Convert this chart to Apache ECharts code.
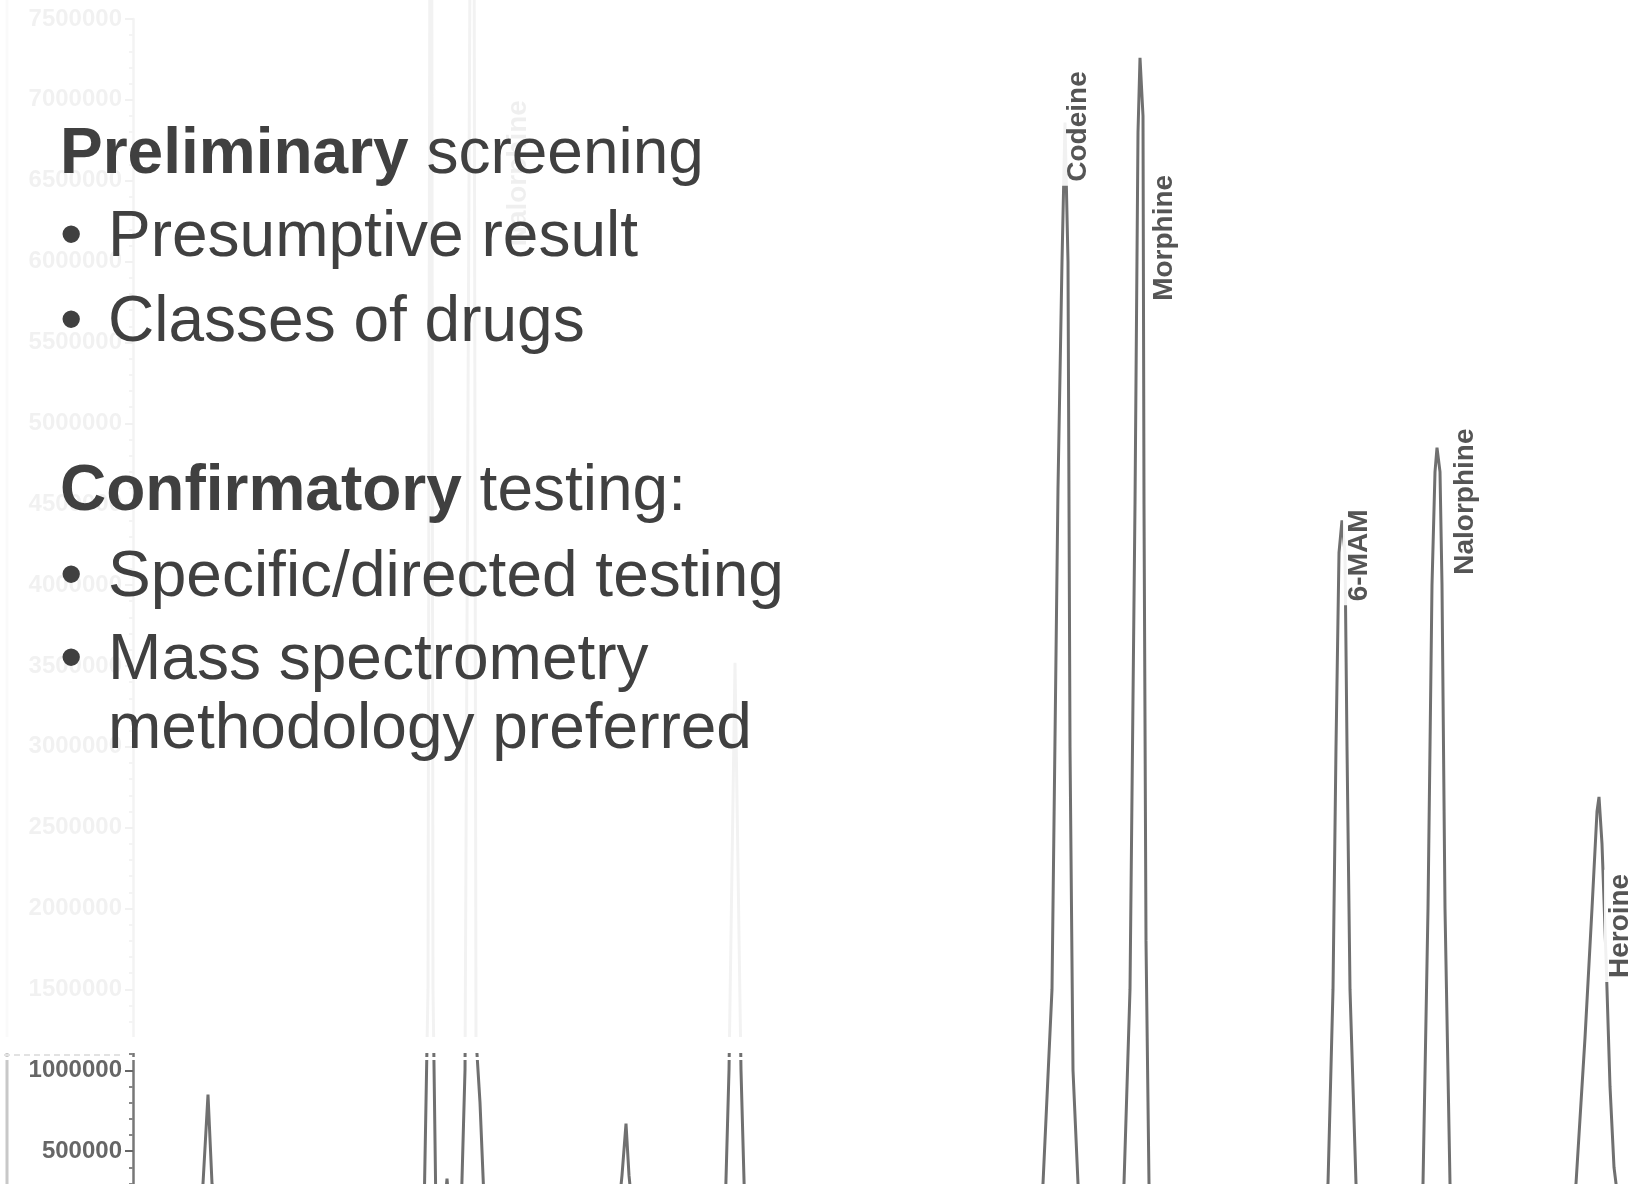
<!DOCTYPE html>
<html>
<head>
<meta charset="utf-8">
<script src="https://cdn.jsdelivr.net/npm/echarts@6/dist/echarts.min.js"></script>
<style>
  html, body { margin: 0; padding: 0; background: #fff; }
  #chart { width: 1650px; height: 1184px; }
</style>
</head>
<body>
<div id="chart"></div>
<script>
// 色谱图数据（保留时间 min / 响应值）
const traceTime = [
  2.0,
  2.325, 2.35, 2.375, 2.395, 2.415,
  3.455, 3.475, 3.49, 3.5, 3.515,
  3.555, 3.57, 3.585,
  3.64, 3.66, 3.7, 3.715, 3.735, 3.755,
  4.425, 4.445, 4.465, 4.48, 4.5,
  4.96, 4.98, 5.01, 5.04, 5.06,
  6.515, 6.55, 6.595, 6.625, 6.645, 6.66, 6.675, 6.685, 6.7, 6.725, 6.76,
  6.925, 6.955, 6.985, 7.01, 7.025, 7.035, 7.05, 7.055, 7.065, 7.08, 7.11,
  7.935, 7.975, 8.0, 8.015, 8.03, 8.045, 8.06, 8.07, 8.085, 8.115, 8.15,
  8.415, 8.45, 8.475, 8.495, 8.51, 8.52, 8.535, 8.545, 8.56, 8.585, 8.62,
  9.175, 9.215, 9.26, 9.295, 9.32, 9.33, 9.345, 9.365, 9.385, 9.405, 9.435,
  9.585,
]
const traceSignal = [
  100000,
  100000, 300000, 850000, 300000, 100000,
  100000, 1500000, 12000000, 1500000, 100000,
  100000, 330000, 100000,
  100000, 1000000, 12000000, 1200000, 800000, 200000,
  100000, 350000, 670000, 350000, 100000,
  100000, 1000000, 3520000, 1000000, 100000,
  100000, 300000, 1500000, 4600000, 6000000, 6860000, 6000000, 3000000, 1000000, 300000, 100000,
  100000, 300000, 1500000, 4500000, 6800000, 7260000, 6900000, 4500000, 1800000, 300000, 100000,
  100000, 300000, 1500000, 3000000, 4200000, 4400000, 4200000, 3000000, 1500000, 300000, 100000,
  100000, 300000, 2000000, 4000000, 4700000, 4850000, 4700000, 4000000, 2000000, 300000, 100000,
  100000, 300000, 1200000, 2000000, 2600000, 2690000, 2400000, 1700000, 900000, 400000, 100000,
  100000,
]

// 峰标注
const peakNames = ['Nalorphine', 'Codeine', 'Morphine', '6-MAM', 'Nalorphine', 'Heroine']
const peakTimes = [3.7, 6.66, 7.035, 8.045, 8.52, 9.33]
const peakHeights = [12000000, 6860000, 7260000, 4400000, 4850000, 2690000]

// 幻灯片文字
const slideLines = [
  { bullet: false, text: '{b|Preliminary} screening' },
  { bullet: true, text: 'Presumptive result' },
  { bullet: true, text: 'Classes of drugs' },
  { bullet: false, text: '{b|Confirmatory} testing:' },
  { bullet: true, text: 'Specific/directed testing' },
  { bullet: true, text: 'Mass spectrometry' },
  { bullet: false, indent: true, text: 'methodology preferred' },
]

const FONT = "'Liberation Sans', Arial, sans-serif"
const TEXT_COLOR = '#404040'
const LINE_Y = [155, 238, 323, 492, 578, 661, 730] // 每行文字中心
const LABEL_OFFSETS = [[45, 882], [13, 4], [24, 180], [17, 35], [28, 54], [21, 129]]

const chart = echarts.init(document.getElementById('chart'))

// 幻灯片文字元素
const textElements = []
slideLines.forEach((line, i) => {
  if (line.bullet) {
    textElements.push({
      type: 'text', x: 60, y: LINE_Y[i], z: 60,
      style: { text: '\u2022', font: `64px ${FONT}`, fill: TEXT_COLOR, verticalAlign: 'middle' },
    })
  }
  textElements.push({
    type: 'text',
    x: line.bullet || line.indent ? 108 : 60,
    y: LINE_Y[i],
    z: 60,
    style: {
      text: line.text,
      fontSize: 64,
      fontFamily: FONT,
      fill: TEXT_COLOR,
      verticalAlign: 'middle',
      rich: {
        b: { fontSize: 64, fontFamily: FONT, fontWeight: 'bold', fill: TEXT_COLOR },
      },
    },
  })
})

const option = {
  backgroundColor: '#fff',
  animation: false,
  grid: { left: 133, right: 0, top: 19, bottom: -48, outerBoundsMode: 'none' },
  xAxis: { type: 'value', min: 2.0, max: 9.585, show: false },
  yAxis: {
    type: 'value',
    min: 0,
    max: 7500000,
    interval: 500000,
    splitLine: { show: false },
    axisLine: { show: true, lineStyle: { color: '#777', width: 2.5 } },
    axisTick: { show: true, length: 8, lineStyle: { color: '#666', width: 2 } },
    minorTick: { show: true, splitNumber: 5, length: 4, lineStyle: { color: '#888', width: 2 } },
    axisLabel: {
      margin: 11,
      fontSize: 24,
      fontWeight: 'bold',
      fontFamily: FONT,
      color: '#666',
      showMinLabel: false,
      formatter: (v) => String(v),
    },
  },
  series: [
    {
      type: 'line',
      data: traceTime.map((t, i) => [t, traceSignal[i]]),
      symbol: 'none',
      clip: false,
      lineStyle: { color: '#707070', width: 3 },
      z: 2,
    },
    {
      type: 'custom',
      data: peakTimes.map((t, i) => [t, peakHeights[i]]),
      z: 3,
      renderItem(params, api) {
        const pt = api.coord([api.value(0), api.value(1)])
        const off = LABEL_OFFSETS[params.dataIndex]
        return {
          type: 'text',
          x: pt[0] + off[0],
          y: pt[1] + off[1],
          rotation: Math.PI / 2,
          style: {
            text: peakNames[params.dataIndex],
            fontSize: 28,
            fontWeight: 'bold',
            fontFamily: FONT,
            fill: '#555',
            align: 'center',
            verticalAlign: 'middle',
            backgroundColor: 'rgba(255,255,255,0.9)',
            padding: [2, 4],
          },
        }
      },
    },
  ],
  graphic: [
    // 原图左侧边框
    { type: 'line', z: 1, shape: { x1: 7, y1: 0, x2: 7, y2: 1184 }, style: { stroke: '#c8c8c8', lineWidth: 3 } },
    // 上半部分淡化遮罩
    { type: 'rect', z: 50, shape: { x: 0, y: 0, width: 790, height: 1037 }, style: { fill: 'rgba(255,255,255,0.91)' } },
    { type: 'rect', z: 50, shape: { x: 0, y: 1037, width: 790, height: 16 }, style: { fill: '#fff' } },
    { type: 'line', z: 51, shape: { x1: 4, y1: 1055, x2: 122, y2: 1055 }, style: { stroke: '#e2e2e2', lineWidth: 2, lineDash: [6, 4] } },
    { type: 'rect', z: 50, shape: { x: 0, y: 1057, width: 790, height: 3 }, style: { fill: '#fff' } },
    ...textElements,
  ],
}

chart.setOption(option)
</script>
</body>
</html>
